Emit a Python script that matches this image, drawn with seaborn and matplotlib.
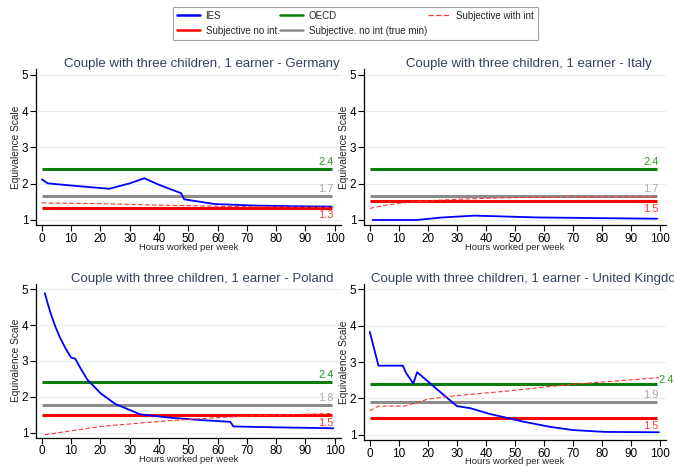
import matplotlib
matplotlib.use("Agg")
import matplotlib.pyplot as plt
from matplotlib.lines import Line2D
import seaborn as sns

sns.set_style("white")
plt.rcParams["font.family"] = ["Liberation Sans", "DejaVu Sans"]

countries = ["Germany", "Italy", "Poland", "United Kingdom"]

# IES curves (hours worked per week -> equivalence scale)
hours_ies = {
    "Germany": [0, 2, 10, 23, 30, 35, 40, 47.5, 48.6, 59, 72, 85, 99],
    "Italy": [1, 8, 16, 25, 36, 45, 58, 70, 81, 99],
    "Poland": [1, 2, 3, 4.5, 6, 8, 10, 11.4, 13.5, 15.6, 20, 25, 33.5, 43, 54,
               64.3, 65.4, 77, 99.5],
    "United Kingdom": [0, 3, 11.4, 12.5, 15, 16.3, 20, 24.5, 30, 34.7, 41.5, 53,
                       62, 70, 81, 99.6],
}
ies = {
    "Germany": [2.12, 2.01, 1.95, 1.86, 2.01, 2.15, 1.97, 1.74, 1.57, 1.44, 1.40,
                1.38, 1.37],
    "Italy": [1.0, 1.0, 1.0, 1.07, 1.12, 1.10, 1.07, 1.06, 1.05, 1.035],
    "Poland": [4.89, 4.6, 4.33, 3.98, 3.68, 3.36, 3.09, 3.06, 2.75, 2.47, 2.10,
               1.80, 1.51, 1.42, 1.35, 1.30, 1.17, 1.15, 1.12],
    "United Kingdom": [3.83, 2.90, 2.90, 2.70, 2.41, 2.72, 2.47, 2.16, 1.79,
                       1.73, 1.57, 1.36, 1.22, 1.13, 1.08, 1.07],
}

# subjective scale with intercept
hours_subj = {
    "Germany": [0, 20, 40, 60, 80, 99],
    "Italy": [0, 5, 10, 15, 20, 30, 40, 50, 65, 80, 99],
    "Poland": [1, 20, 43, 65, 80, 99],
    "United Kingdom": [0, 3, 12, 20, 29, 47, 60, 70, 85, 99.6],
}
subj_int = {
    "Germany": [1.47, 1.45, 1.41, 1.38, 1.36, 1.35],
    "Italy": [1.32, 1.40, 1.46, 1.50, 1.53, 1.57, 1.60, 1.62, 1.63, 1.64, 1.64],
    "Poland": [0.94, 1.17, 1.33, 1.44, 1.49, 1.53],
    "United Kingdom": [1.66, 1.79, 1.79, 1.98, 2.07, 2.20, 2.31, 2.39, 2.48, 2.57],
}

# constant scales
oecd = {"Germany": 2.4, "Italy": 2.4, "Poland": 2.4, "United Kingdom": 2.4}
subj_no_int = {"Germany": 1.34, "Italy": 1.53, "Poland": 1.49, "United Kingdom": 1.46}
subj_true_min = {"Germany": 1.67, "Italy": 1.66, "Poland": 1.78, "United Kingdom": 1.90}
hour_range = [0, 99]

c_blue = "#0000ff"
c_green = "#0a7d0a"
c_red = "#ff0000"
c_grey = "#8c8c8c"
c_dash = "#ff3030"

# axes boxes in figure fractions
boxes = {
    "Germany": [0.0534, 0.517, 0.452, 0.334],
    "Italy": [0.540, 0.517, 0.448, 0.334],
    "Poland": [0.0534, 0.061, 0.452, 0.330],
    "United Kingdom": [0.540, 0.056, 0.448, 0.335],
}

fig = plt.figure(figsize=(6.74, 4.66), dpi=100)

for country in countries:
    ax = fig.add_axes(boxes[country])

    ax.hlines(oecd[country], hour_range[0], hour_range[1], color=c_green, lw=2.2)
    ax.hlines(subj_true_min[country], hour_range[0], hour_range[1], color=c_grey, lw=2.2)
    ax.hlines(subj_no_int[country], hour_range[0], hour_range[1], color=c_red, lw=2.2)

    sns.lineplot(x=hours_ies[country], y=ies[country], ax=ax, color=c_blue, lw=1.3)
    sns.lineplot(x=hours_subj[country], y=subj_int[country], ax=ax, color=c_dash,
                 lw=0.8, dashes=False, linestyle=(0, (4, 2.2)))

    # value labels at the right end
    xr = hour_range[1] + 0.6
    if country == "United Kingdom":
        ax.annotate(f"{oecd[country]:.1f}", (hour_range[1] + 0.4, 2.5), ha="left",
                    va="center", color="#2a9a2a", fontsize=8)
    else:
        ax.annotate(f"{oecd[country]:.1f}", (xr, oecd[country]), xytext=(0, 1.5),
                    textcoords="offset points", ha="right", va="bottom",
                    color="#2a9a2a", fontsize=8)
    ax.annotate(f"{subj_true_min[country]:.1f}", (xr, subj_true_min[country]),
                xytext=(0, 1.5), textcoords="offset points", ha="right",
                va="bottom", color="#aaaaaa", fontsize=8)
    ax.annotate(f"{subj_no_int[country]:.1f}", (xr, subj_no_int[country]),
                xytext=(0, -2), textcoords="offset points", ha="right",
                va="top", color="#ff4040", fontsize=8)

    ax.set_xlim(-2, 102)
    ax.set_ylim(0.86, 5.15)
    ax.set_xticks(range(0, 101, 10))
    ax.set_yticks([1, 2, 3, 4, 5])
    ax.yaxis.grid(True, color="#e4eef0", lw=0.8)
    ax.set_axisbelow(True)
    sns.despine(ax=ax)
    for side in ["left", "bottom"]:
        ax.spines[side].set_color("black")
        ax.spines[side].set_linewidth(0.9)
    ax.tick_params(axis="both", length=4, width=0.8, pad=1.5, labelsize=8.5,
                   colors="black", bottom=True, left=True)
    ax.set_xlabel("Hours worked per week", fontsize=6.8, labelpad=-1.5)
    ax.set_ylabel("Equivalence Scale", fontsize=7.3, labelpad=0.5)
    ax.set_title(f"Couple with three children, 1 earner - {country}", x=0.545,
                 pad=1.5, fontsize=9.5, color="#33405e")

handles = [
    Line2D([], [], color=c_blue, lw=1.8),
    Line2D([], [], color=c_red, lw=1.8),
    Line2D([], [], color=c_green, lw=1.8),
    Line2D([], [], color=c_grey, lw=1.8),
    Line2D([], [], color=c_dash, lw=0.9, linestyle=(0, (4, 2.2))),
]
labels = ["IES", "Subjective no int.", "OECD", "Subjective. no int (true min)",
          "Subjective with int"]
leg = fig.legend(handles, labels, loc="upper center", bbox_to_anchor=(0.5275, 0.985),
                 borderaxespad=0, ncol=3, fontsize=7, frameon=True, fancybox=False,
                 edgecolor="#8a8a8a", handlelength=2.3, handletextpad=0.6,
                 columnspacing=0.1, labelspacing=0.5, borderpad=0.4)
leg.get_frame().set_linewidth(0.8)

fig.savefig("out.png", dpi=100)
